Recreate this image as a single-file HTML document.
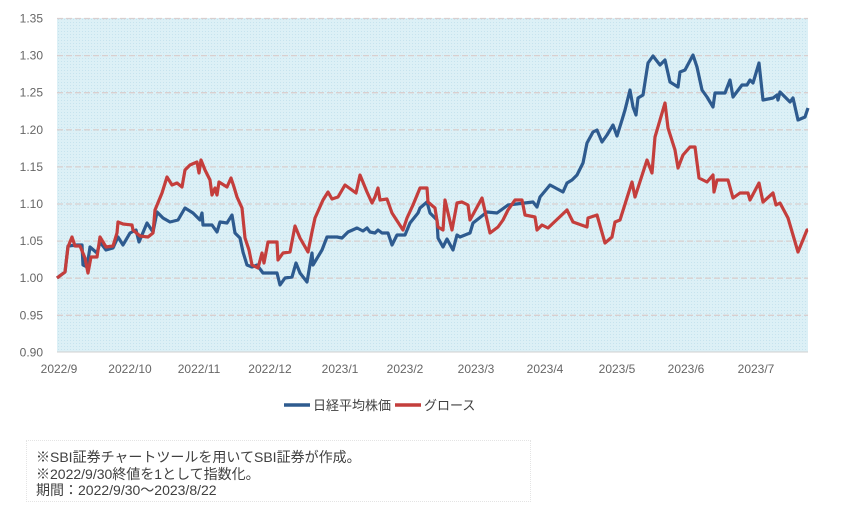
<!DOCTYPE html>
<html><head><meta charset="utf-8"><style>
body{margin:0;background:#fff;width:844px;height:507px;overflow:hidden;font-family:"Liberation Sans","Noto Sans CJK JP",sans-serif}
svg{position:absolute;left:0;top:0}
.t{font-family:"Liberation Sans","Noto Sans CJK JP",sans-serif;fill:#666;font-size:12px}
.n{position:absolute;left:26px;top:440px;width:505px;height:62px;border:1px dotted #e4e4e4;box-sizing:border-box}
.n div{position:absolute;left:9px;font-size:14px;color:#404040;line-height:16px;white-space:nowrap}
</style></head><body>
<svg width="844" height="507">
<defs><pattern id="d" width="3" height="3" patternUnits="userSpaceOnUse"><rect width="3" height="3" fill="#dcf0f6"/><rect x="1" y="1" width="1" height="1" fill="#c6e3ee"/></pattern></defs>
<rect x="57" y="18" width="751" height="334" fill="url(#d)"/>
<g stroke="#d9cfcf" stroke-width="1.3" stroke-dasharray="6,3">
<line x1="57" x2="808" y1="18.5" y2="18.5"/><line x1="57" x2="808" y1="55.6" y2="55.6"/><line x1="57" x2="808" y1="92.7" y2="92.7"/><line x1="57" x2="808" y1="129.8" y2="129.8"/><line x1="57" x2="808" y1="166.9" y2="166.9"/><line x1="57" x2="808" y1="204" y2="204"/><line x1="57" x2="808" y1="241.1" y2="241.1"/><line x1="57" x2="808" y1="278.2" y2="278.2"/><line x1="57" x2="808" y1="315.3" y2="315.3"/>
</g>
<line x1="57" x2="808" y1="352" y2="352" stroke="#d0d0d0"/>
<g class="t" text-anchor="end">
<text x="43" y="22.5">1.35</text><text x="43" y="59.6">1.30</text><text x="43" y="96.7">1.25</text><text x="43" y="133.8">1.20</text><text x="43" y="170.9">1.15</text><text x="43" y="208">1.10</text><text x="43" y="245.1">1.05</text><text x="43" y="282.2">1.00</text><text x="43" y="319.3">0.95</text><text x="43" y="356.4">0.90</text>
</g>
<g class="t" text-anchor="middle">
<text x="59" y="373">2022/9</text><text x="130" y="373">2022/10</text><text x="199" y="373">2022/11</text><text x="270" y="373">2022/12</text><text x="340" y="373">2023/1</text><text x="405" y="373">2023/2</text><text x="476" y="373">2023/3</text><text x="545" y="373">2023/4</text><text x="617" y="373">2023/5</text><text x="686" y="373">2023/6</text><text x="756" y="373">2023/7</text>
</g>
<polyline fill="none" stroke="#2e5b8f" stroke-width="3.2" stroke-linejoin="round" points="57,278 65,272 68,246 77,245 82,245 83,265 87,267 90,247 97,253 100,242 106,250 113,248 118,237 123,245 130,233 136,230 139,242 147,223 153,232 157,212 163,218 170,222 178,220 185,208 193,213 200,220 202,213 203,225 212,225 217,232 220,222 227,223 232,215 235,233 240,238 243,252 247,265 252,267 257,265 263,273 277,273 280,285 285,278 292,277 296,263 300,273 307,282 312,253 313,265 322,250 327,237 337,237 342,238 348,232 357,228 363,231 367,228 370,232 375,233 378,230 382,233 388,233 392,245 397,235 405,235 410,223 418,213 420,208 427,202 430,213 437,220 438,238 443,247 447,239 453,250 457,235 460,237 470,233 473,223 487,212 497,213 508,205 533,202 537,207 540,197 550,185 563,192 567,183 572,180 577,175 583,163 587,143 593,132 597,130 602,142 607,135 613,125 617,136 622,120 625,110 630,90 633,107 636,115 638,98 643,95 648,63 653,56 660,65 665,60 670,82 678,87 680,72 685,70 693,55 697,67 702,90 707,97 713,107 715,93 725,93 730,80 733,97 742,85 747,85 750,80 753,83 759,63 763,100 773,98 777,95 778,100 780,92 790,102 793,98 798,120 805,117 808,108"/>
<polyline fill="none" stroke="#c43e3c" stroke-width="3.2" stroke-linejoin="round" points="57,278 65,272 68,247 72,237 75,246 80,246 85,258 88,273 91,257 97,257 100,237 106,247 113,246 117,233 118,222 123,224 132,225 133,230 140,236 148,237 153,233 155,210 162,193 167,177 172,185 177,183 182,187 185,170 190,165 197,162 199,173 201,160 205,170 210,180 212,195 215,188 217,195 219,182 227,187 231,178 234,187 237,197 242,208 245,238 249,250 252,265 258,268 262,253 264,263 268,242 277,242 278,260 283,253 290,252 295,226 300,238 308,252 312,232 315,218 323,200 328,192 332,199 338,197 345,185 356,193 360,175 367,192 372,203 375,197 378,188 380,200 387,199 392,213 403,230 407,218 413,205 420,188 427,188 428,202 435,208 438,227 443,230 445,200 452,230 457,203 462,202 468,205 470,220 482,198 490,233 498,227 503,220 508,210 515,200 522,200 525,215 535,217 537,230 542,225 548,228 567,210 573,222 587,227 588,218 597,215 605,243 612,237 615,222 620,220 632,182 635,197 647,160 652,173 655,137 665,103 668,128 675,150 678,168 683,155 690,147 695,147 699,178 707,182 713,175 714,192 717,180 728,180 733,198 740,193 748,193 750,200 759,183 763,202 773,193 776,205 780,203 788,218 798,252 807,230 808,230"/>
<line x1="284" x2="310" y1="405" y2="405" stroke="#2e5b8f" stroke-width="3.5"/>
<text x="313" y="410" font-size="13" fill="#404040" style="font-family:'Liberation Sans','Noto Sans CJK JP',sans-serif">日経平均株価</text>
<line x1="395" x2="421" y1="405" y2="405" stroke="#c43e3c" stroke-width="3.5"/>
<text x="424" y="410" font-size="13" fill="#404040" style="font-family:'Liberation Sans','Noto Sans CJK JP',sans-serif">グロース</text>
</svg>
<div class="n">
<div style="top:8px">※SBI証券チャートツールを用いてSBI証券が作成。</div>
<div style="top:25px">※2022/9/30終値を1として指数化。</div>
<div style="top:41px">期間：2022/9/30～2023/8/22</div>
</div>
</body></html>
